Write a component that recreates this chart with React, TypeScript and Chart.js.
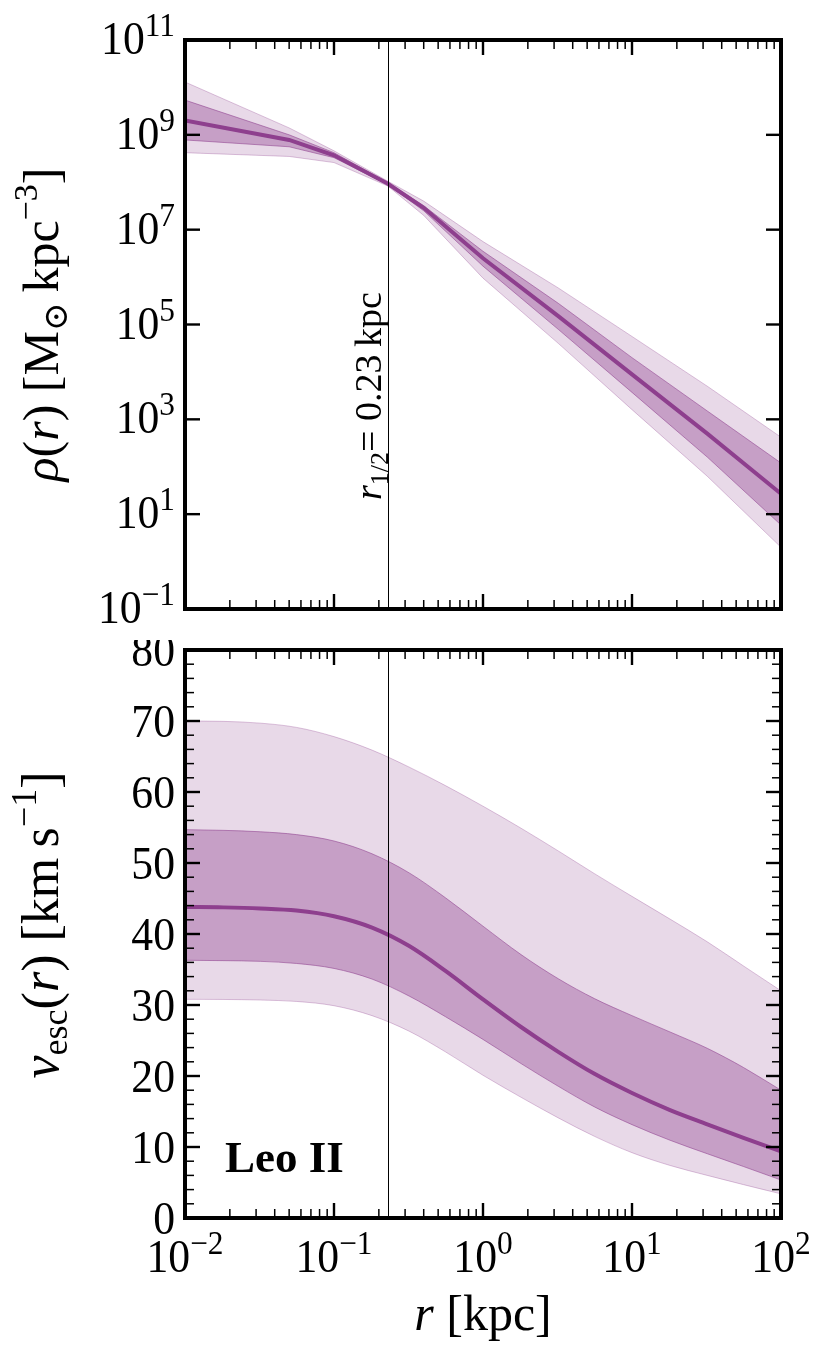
import { useEffect, useRef } from 'react';
import { Chart, registerables } from 'chart.js';

Chart.register(...registerables);

// radius grid (kpc) of the density profile
const rhoRadii = [0.01, 0.05, 0.1, 0.23, 0.4, 1, 3.2, 10, 32, 100];
// density in M_sun kpc^-3
const rhoMedian = [2.0e9, 7.8e8, 3.7e8, 9.3e7, 2.9e7, 2.5e6, 1.5e5, 8.9e3, 5.0e2, 27];
const rhoHi68 = [5.4e9, 1.0e9, 4.2e8, 9.8e7, 3.2e7, 3.5e6, 2.8e5, 2.0e4, 1.5e3, 120];
const rhoLo68 = [7.8e8, 5.6e8, 3.3e8, 8.9e7, 2.5e7, 1.7e6, 7.9e4, 3.7e3, 160, 5.9];
const rhoHi95 = [1.3e10, 1.4e9, 4.6e8, 1.05e8, 4.0e7, 5.6e6, 5.9e5, 5.6e4, 5.0e3, 420];
const rhoLo95 = [4.2e8, 3.5e8, 2.6e8, 8.3e7, 2.0e7, 9.5e5, 4.0e4, 1.6e3, 63, 2.0];

// radius grid (kpc) of the escape velocity profile
const vescRadii = [0.01, 0.018, 0.032, 0.056, 0.1, 0.18, 0.32, 0.56, 1, 1.8, 3.2, 5.6, 10, 18, 32, 56, 100];
// escape velocity in km/s
const vescMedian = [43.8, 43.75, 43.6, 43.3, 42.5, 40.9, 38.3, 34.8, 30.8, 26.9, 23.4, 20.3, 17.6, 15.2, 13.2, 11.3, 9.4];
const vescHi68 = [54.7, 54.6, 54.4, 54.0, 53.1, 51.3, 48.6, 45.1, 41.1, 37.1, 33.7, 30.9, 28.5, 26.2, 23.9, 21.2, 18.0];
const vescLo68 = [36.3, 36.25, 36.15, 35.85, 35.15, 33.65, 31.25, 28.35, 25.15, 21.75, 18.55, 15.65, 13.15, 10.95, 9.05, 7.25, 5.35];
const vescHi95 = [70.0, 69.95, 69.7, 69.1, 67.8, 65.9, 63.5, 60.9, 58.0, 54.9, 51.7, 48.5, 45.3, 42.1, 38.9, 35.5, 32.0];
const vescLo95 = [30.8, 30.78, 30.7, 30.5, 29.9, 28.5, 26.3, 23.4, 20.1, 17.0, 14.1, 11.5, 9.2, 7.4, 6.0, 4.7, 3.4];

const R_HALF = 0.23;
const galaxyName = 'Leo II';

// axis ticks
const xDecades = [0.01, 0.1, 1, 10, 100];
const xDecadeExps = ['−2', '−1', '0', '1', '2'];
const rhoTicks = [0.1, 10, 1e3, 1e5, 1e7, 1e9, 1e11];
const rhoTickExps = ['−1', '1', '3', '5', '7', '9', '11'];
const vescTicks = [0, 10, 20, 30, 40, 50, 60, 70, 80];
const vescTickLabels = ['0', '10', '20', '30', '40', '50', '60', '70', '80'];

const PURPLE = '#8e3f8e';
const FONT = '"Liberation Serif", "DejaVu Serif", serif';
const SX = 0.95; // tick labels in the reference are a little narrow

type Run = { t: string; size: number; italic?: boolean; bold?: boolean; dy?: number };

const runFont = (r: Run) =>
  `${r.italic ? 'italic ' : ''}${r.bold ? 'bold ' : ''}${r.size}px ${FONT}`;

function drawRuns(
  ctx: CanvasRenderingContext2D,
  runs: Run[],
  x: number,
  y: number,
  align: 'left' | 'center' | 'right',
  rotate = 0,
  sx = 1,
) {
  ctx.save();
  ctx.translate(x, y);
  if (rotate) ctx.rotate(rotate);
  ctx.scale(sx, 1);
  let w = 0;
  for (const r of runs) {
    ctx.font = runFont(r);
    w += ctx.measureText(r.t).width;
  }
  let cx = align === 'left' ? 0 : align === 'center' ? -w / 2 : -w;
  ctx.fillStyle = '#000';
  ctx.textAlign = 'left';
  ctx.textBaseline = 'alphabetic';
  for (const r of runs) {
    ctx.font = runFont(r);
    ctx.fillText(r.t, cx, r.dy ?? 0);
    cx += ctx.measureText(r.t).width;
  }
  ctx.restore();
}

const pow10 = (exp: string): Run[] => [
  { t: '10', size: 46 },
  { t: exp, size: 33, dy: -18 },
];

const xMinorTicks: number[] = [];
for (const d of xDecades.slice(0, -1)) {
  for (let k = 2; k <= 9; k++) xMinorTicks.push(d * k);
}
const vescMinorTicks: number[] = [];
for (let v = 2; v < 80; v += 2) if (v % 10 !== 0) vescMinorTicks.push(v);

const MAJOR = 15;
const MINOR = 9;

function drawFrame(chart: Chart, yMajor: number[], yMinor: number[]) {
  const { ctx, chartArea: a } = chart;
  const xs = chart.scales.x;
  const ys = chart.scales.y;
  ctx.save();
  ctx.strokeStyle = '#000';
  const seg = (x1: number, y1: number, x2: number, y2: number, w: number) => {
    ctx.lineWidth = w;
    ctx.beginPath();
    ctx.moveTo(x1, y1);
    ctx.lineTo(x2, y2);
    ctx.stroke();
  };
  for (const v of xMinorTicks) {
    const px = xs.getPixelForValue(v);
    seg(px, a.bottom, px, a.bottom - MINOR, 1.5);
    seg(px, a.top, px, a.top + MINOR, 1.5);
  }
  for (const v of xDecades) {
    const px = xs.getPixelForValue(v);
    seg(px, a.bottom, px, a.bottom - MAJOR, 2.4);
    seg(px, a.top, px, a.top + MAJOR, 2.4);
  }
  for (const v of yMinor) {
    const py = ys.getPixelForValue(v);
    seg(a.left, py, a.left + MINOR, py, 1.5);
    seg(a.right, py, a.right - MINOR, py, 1.5);
  }
  for (const v of yMajor) {
    const py = ys.getPixelForValue(v);
    seg(a.left, py, a.left + MAJOR, py, 2.4);
    seg(a.right, py, a.right - MAJOR, py, 2.4);
  }
  ctx.lineWidth = 4;
  ctx.strokeRect(a.left, a.top, a.right - a.left, a.bottom - a.top);
  ctx.restore();
}

function halfLightLine(chart: Chart) {
  const { ctx, chartArea: a } = chart;
  const px = Math.round(chart.scales.x.getPixelForValue(R_HALF)) + 0.5;
  ctx.save();
  ctx.strokeStyle = '#000';
  ctx.lineWidth = 1;
  ctx.beginPath();
  ctx.moveTo(px, a.top);
  ctx.lineTo(px, a.bottom);
  ctx.stroke();
  ctx.restore();
}

function bandDatasets(
  radii: number[],
  median: number[],
  hi68: number[],
  lo68: number[],
  hi95: number[],
  lo95: number[],
  smooth: boolean,
) {
  const pts = (ys: number[]) => radii.map((r, i) => ({ x: r, y: ys[i] }));
  const common = smooth
    ? { pointRadius: 0, cubicInterpolationMode: 'monotone' as const }
    : { pointRadius: 0, tension: 0 };
  return [
    { ...common, data: pts(median), borderColor: PURPLE, borderWidth: 4, fill: false },
    {
      ...common,
      data: pts(hi68),
      borderColor: 'rgba(142,63,142,0.55)',
      borderWidth: 1,
      backgroundColor: 'rgba(142,63,142,0.38)',
      fill: '+1',
    },
    { ...common, data: pts(lo68), borderColor: 'rgba(142,63,142,0.55)', borderWidth: 1, fill: false },
    {
      ...common,
      data: pts(hi95),
      borderColor: 'rgba(142,63,142,0.3)',
      borderWidth: 1,
      backgroundColor: 'rgba(142,63,142,0.2)',
      fill: '+1',
    },
    { ...common, data: pts(lo95), borderColor: 'rgba(142,63,142,0.3)', borderWidth: 1, fill: false },
  ];
}

const xScale = { type: 'logarithmic' as const, min: 0.01, max: 100, display: false };

const App = () => {
  const topRef = useRef<HTMLCanvasElement>(null);
  const botRef = useRef<HTMLCanvasElement>(null);

  useEffect(() => {
    if (!topRef.current || !botRef.current) return;

    const topChart = new Chart(topRef.current, {
      type: 'line',
      data: {
        datasets: bandDatasets(rhoRadii, rhoMedian, rhoHi68, rhoLo68, rhoHi95, rhoLo95, false) as any,
      },
      options: {
        animation: false,
        responsive: true,
        maintainAspectRatio: false,
        layout: { padding: { left: 185, right: 49, top: 40, bottom: 31 } },
        plugins: { legend: { display: false }, tooltip: { enabled: false } },
        scales: {
          x: xScale,
          y: { type: 'logarithmic', min: 0.1, max: 1e11, display: false },
        },
      },
      plugins: [
        {
          id: 'topDecor',
          afterDatasetsDraw: (chart: Chart) => halfLightLine(chart),
          afterDraw: (chart: Chart) => {
            const { ctx, chartArea: a } = chart;
            drawFrame(chart, rhoTicks, []);
            const ys = chart.scales.y;
            rhoTicks.forEach((v, i) => {
              drawRuns(ctx, pow10(rhoTickExps[i]), a.left - 10, ys.getPixelForValue(v) + 14, 'right', 0, SX);
            });
            // y title
            drawRuns(
              ctx,
              [
                { t: 'ρ', size: 50, italic: true },
                { t: '(', size: 50 },
                { t: 'r', size: 50, italic: true },
                { t: ') [M', size: 50 },
                { t: '⊙', size: 34, dy: 9 },
                { t: '\u2009kpc', size: 50 },
                { t: '−3', size: 34, dy: -21 },
                { t: ']', size: 50 },
              ],
              58,
              (a.top + a.bottom) / 2,
              'center',
              -Math.PI / 2,
            );
            // half-light radius annotation
            const lx = chart.scales.x.getPixelForValue(R_HALF);
            drawRuns(
              ctx,
              [
                { t: 'r', size: 38, italic: true },
                { t: '1/2', size: 26, dy: 7 },
                { t: '= 0.23\u2009kpc', size: 38 },
              ],
              lx - 7,
              500,
              'left',
              -Math.PI / 2,
            );
          },
        },
      ],
    });

    const botChart = new Chart(botRef.current, {
      type: 'line',
      data: {
        datasets: bandDatasets(vescRadii, vescMedian, vescHi68, vescLo68, vescHi95, vescLo95, true) as any,
      },
      options: {
        animation: false,
        responsive: true,
        maintainAspectRatio: false,
        layout: { padding: { left: 185, right: 49, top: 10, bottom: 140 } },
        plugins: { legend: { display: false }, tooltip: { enabled: false } },
        scales: {
          x: xScale,
          y: { type: 'linear', min: 0, max: 80, display: false },
        },
      },
      plugins: [
        {
          id: 'botDecor',
          afterDatasetsDraw: (chart: Chart) => halfLightLine(chart),
          afterDraw: (chart: Chart) => {
            const { ctx, chartArea: a } = chart;
            drawFrame(chart, vescTicks, vescMinorTicks);
            const ys = chart.scales.y;
            const xs = chart.scales.x;
            vescTicks.forEach((v, i) => {
              drawRuns(ctx, [{ t: vescTickLabels[i], size: 46 }], a.left - 10, ys.getPixelForValue(v) + 16, 'right', 0, SX);
            });
            xDecades.forEach((v, i) => {
              drawRuns(ctx, pow10(xDecadeExps[i]), xs.getPixelForValue(v), a.bottom + 54, 'center', 0, SX);
            });
            // x title
            drawRuns(
              ctx,
              [
                { t: 'r', size: 50, italic: true },
                { t: ' [kpc]', size: 50 },
              ],
              (a.left + a.right) / 2,
              a.bottom + 112,
              'center',
            );
            // y title
            drawRuns(
              ctx,
              [
                { t: 'v', size: 52, italic: true },
                { t: 'esc', size: 36, dy: 9 },
                { t: '(', size: 52 },
                { t: 'r', size: 52, italic: true },
                { t: ') [km\u2009s', size: 52 },
                { t: '−1', size: 36, dy: -22 },
                { t: ']', size: 52 },
              ],
              58,
              (a.top + a.bottom) / 2 - 9,
              'center',
              -Math.PI / 2,
            );
            // galaxy name
            drawRuns(ctx, [{ t: galaxyName, size: 45, bold: true }], a.left + 40, a.bottom - 46, 'left');
          },
        },
      ],
    });

    return () => {
      topChart.destroy();
      botChart.destroy();
    };
  }, []);

  return (
    <div style={{ position: 'absolute', left: 0, top: 0, width: 830, height: 1358, background: '#fff' }}>
      <div style={{ position: 'absolute', left: 0, top: 0, width: 830, height: 640 }}>
        <canvas ref={topRef} />
      </div>
      <div style={{ position: 'absolute', left: 0, top: 640, width: 830, height: 718 }}>
        <canvas ref={botRef} />
      </div>
    </div>
  );
};

export default App;
